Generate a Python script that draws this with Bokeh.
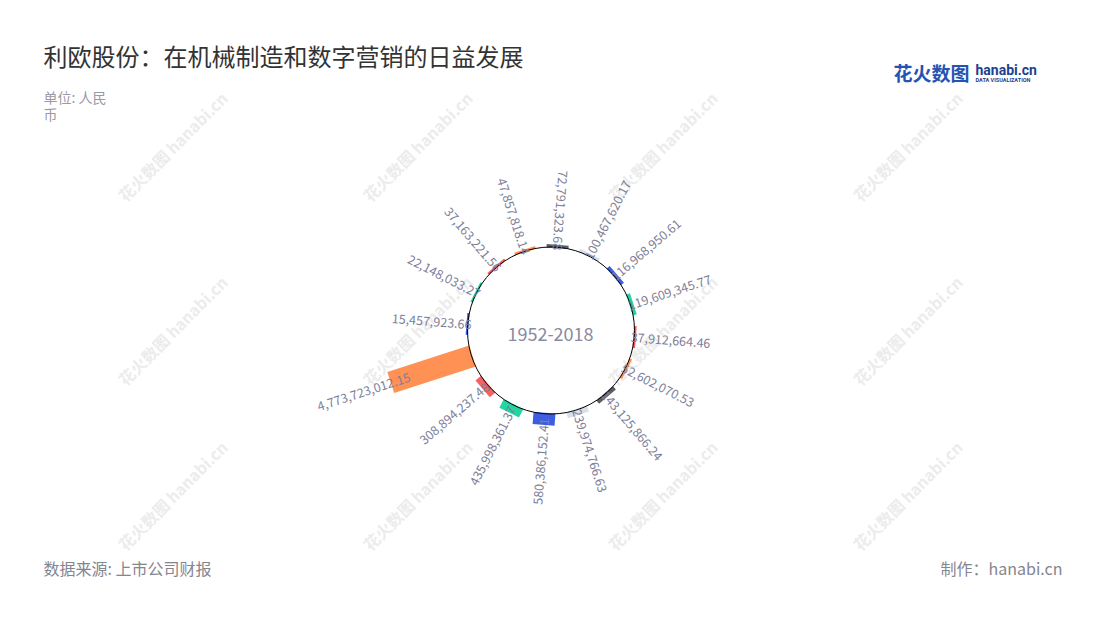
import numpy as np
from bokeh.plotting import figure
from bokeh.models import Range1d
from bokeh.embed import file_html
from bokeh.resources import INLINE
from bokeh.core.properties import value

# ---------------- data ----------------
title = "利欧股份：在机械制造和数字营销的日益发展"
unit_line1 = "单位: 人民"
unit_line2 = "币"
source = "数据来源: 上市公司财报"
credit = "制作：hanabi.cn"
period = "1952-2018"

# values in drawing order (counter-clockwise, starting with the largest bar)
values = [4773723012.15, 308894237.48, 435998361.37, 580386152.41,
          239974766.63, 143125866.24, 52602070.53, 37912664.46,
          119609345.77, 116968950.61, 100467620.17, 72791323.68,
          47857818.14, 37163221.56, 22148033.27, 15457923.66]
labels = [f"{v:,.2f}" for v in values]
palette = ["#ff9155", "#f66262", "#22d6a2", "#3d5de2", "#d8dfeb", "#5d5d66"]

# ---------------- layout ----------------
W, H = 1084, 604
FONT = "Noto Sans CJK SC"


def px(X, Y):
    """page pixel -> data coords (frame is 1:1 with pixels, y up)"""
    return X, H - Y


p = figure(width=W, height=H, x_range=Range1d(0, W), y_range=Range1d(0, H),
           output_backend="svg", toolbar_location=None, min_border=0,
           x_axis_location=None, y_axis_location=None)
p.grid.visible = False
p.outline_line_color = None
p.background_fill_color = "white"

# watermarks
wm_x, wm_y = [], []
for X in [172, 417, 662, 907]:
    for Y in [146, 330, 495]:
        x, y = px(X, Y)
        wm_x.append(x)
        wm_y.append(y)
p.text(x=wm_x, y=wm_y, text=["花火数图 hanabi.cn"] * len(wm_x), angle=np.pi / 4,
       text_font=value(FONT), text_font_size="16px", text_font_style="bold",
       text_color="#ececec", text_align="center", text_baseline="middle")

# polar geometry
cx, cy = px(550.5, 330)
R = 83.5
vmax = max(values)
scale = 84.0 / vmax          # pixels per unit value
n = len(values)
theta = np.deg2rad(252.0 - 360.0 / n * np.arange(n))   # clockwise from top
vals = np.array(values)
blen = 2.0 + vals * scale
rmid = R - 1.0 + blen / 2
bx = cx + rmid * np.sin(theta)
by = cy + rmid * np.cos(theta)
bang = np.pi / 2 - theta
bcol = [palette[i % len(palette)] for i in range(n)]

p.rect(x=bx, y=by, width=blen, height=22, height_units="screen", angle=bang,
       fill_color=bcol, line_color=None)

# circle
p.circle(x=[cx], y=[cy], radius=R, fill_color=None, line_color="black", line_width=1)

# labels
ra = R - 4 + 0.82 * vals * scale
lx = cx + ra * np.sin(theta)
ly = cy + ra * np.cos(theta)
deg = np.rad2deg(theta) % 360
outward = (deg > 10) & (deg < 175)
for i in range(n):
    if outward[i]:
        ang, al = np.pi / 2 - theta[i], "left"
    else:
        ang, al = 3 * np.pi / 2 - theta[i], "right"
    p.text(x=[lx[i]], y=[ly[i]], text=[labels[i]], angle=ang,
           text_font=value(FONT), text_font_size="12.5px",
           text_color="#7e7e99", text_align=al, text_baseline="middle")

# center text
x, y = px(550, 333)
p.text(x=[x], y=[y], text=[period], text_font=value(FONT), text_font_size="18px",
       text_color="#8a8aa0", text_align="center", text_baseline="middle")

# title & notes
x, y = px(43, 55)
p.text(x=[x], y=[y], text=[title], text_font=value(FONT), text_font_size="24px",
       text_color="#333333", text_align="left", text_baseline="middle")
x, y = px(43, 96)
p.text(x=[x], y=[y], text=[unit_line1], text_font=value(FONT), text_font_size="14px",
       text_color="#9a9aa5", text_align="left", text_baseline="middle")
x, y = px(43, 113)
p.text(x=[x], y=[y], text=[unit_line2], text_font=value(FONT), text_font_size="14px",
       text_color="#9a9aa5", text_align="left", text_baseline="middle")
x, y = px(43, 567)
p.text(x=[x], y=[y], text=[source], text_font=value(FONT), text_font_size="16px",
       text_color="#858590", text_align="left", text_baseline="middle")
x, y = px(1062, 567)
p.text(x=[x], y=[y], text=[credit], text_font=value(FONT), text_font_size="16px",
       text_color="#858590", text_align="right", text_baseline="middle")

# logo
x, y = px(893, 72)
p.text(x=[x], y=[y], text=["花火数图"], text_font=value(FONT), text_font_size="19px",
       text_font_style="bold", text_color="#2553b3", text_align="left", text_baseline="middle")
x, y = px(975, 69)
p.text(x=[x], y=[y], text=["hanabi.cn"], text_font=value("Roboto"), text_font_size="14px",
       text_font_style="bold", text_color="#1d3f8f", text_align="left", text_baseline="middle")
x, y = px(975, 79)
p.text(x=[x], y=[y], text=["DATA VISUALIZATION"], text_font=value("Roboto"), text_font_size="5.5px",
       text_font_style="bold", text_color="#1d3f8f", text_align="left", text_baseline="middle")

open("out.html", "w").write(file_html(p, INLINE))
